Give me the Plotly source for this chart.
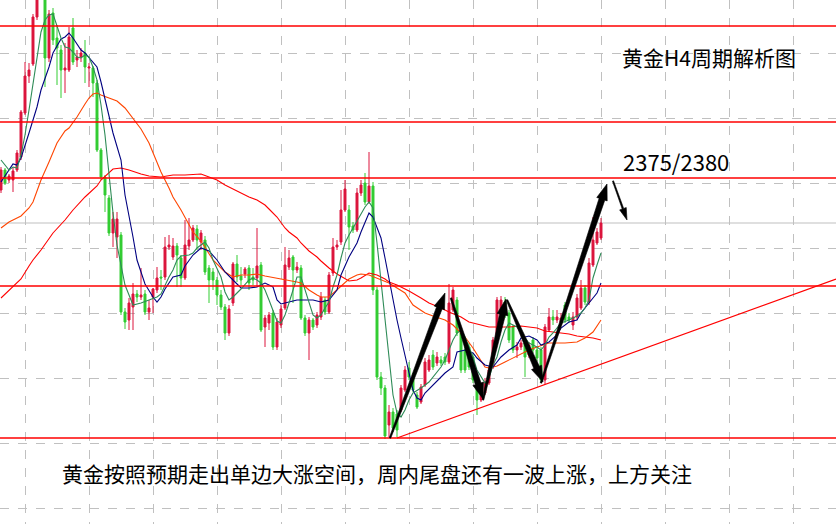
import math
import plotly.graph_objects as go

# ---- candle data (H4 gold) ----
open_ = [2375,2385,2380,2380,2385,2391.5,2413.5,2432,2438,2461.5,2472.5,2475,2441,2463.5,2451,2445,2435,2435,2456,2440,
         2441.5,2443.5,2436,2436,2428.5,2395,2381.5,2371,2353.5,2351.5,2352.5,2314,2310,2316.5,2323,2321.5,2323,2314,2321.5,2325,
         2331.5,2331.5,2346.5,2341.5,2347,2341,2331,2347,2350,2355.5,2349,2350,2336,2334,2330,2322.5,2316.5,2303.5,2318.5,2338,
         2332,2333,2336,2331.5,2331,2337.5,2306.5,2308.5,2313.5,2296.5,2307.5,2316,2336.5,2341.5,2335,2336,2311,2303.5,2310,2307.5,
         2311.5,2320,2314,2333.5,2346.5,2349,2365,2365,2357,2355,2373.5,2378.5,2369,2377,2325,2281.5,2276,2257.5,2264,2263,
         2265,2275,2286,2281.5,2272.5,2269,2277.5,2285,2292.5,2288.5,2290,2291.5,2289,2315,2320,2303.5,2295,2296.5,2291.5,2278.5,
         2270,2273.5,2278.5,2286.5,2301,2315,2319,2313.5,2306.5,2295,2296.5,2298.5,2292.5,2300,2295,2295,2280,2305,2311.5,2310,
         2309,2317.5,2311.5,2307.5,2311.5,2316,2326,2319,2337.5,2348.5,2351]
high = [2386.5,2386,2383,2386.5,2395,2415,2439,2438.5,2463,2480,2487.5,2477.5,2465,2466,2457.5,2447.5,2448.5,2456.5,2461,2445,
        2446,2450,2438.5,2437,2430,2396,2382.5,2372.5,2364,2364,2354,2316,2321,2328.5,2325,2336,2325,2320,2326,2336.5,
        2335,2351.5,2352.5,2351,2348.5,2342.5,2360,2361,2357.5,2357.5,2355,2352,2337.5,2336,2331.5,2325,2318,2317.5,2339,2342.5,
        2336.5,2336.5,2337.5,2336,2356,2339,2312.5,2314,2315,2311,2317.5,2346.5,2345,2342.5,2339,2337.5,2312.5,2311.5,2311,2314,
        2324,2321.5,2334,2351,2350,2375,2380,2367.5,2359,2376,2380,2383.5,2394,2379,2326.5,2284,2277.5,2267.5,2266,2265,
        2277.5,2287,2289,2283.5,2274,2278,2291,2292.5,2295,2294,2292,2293.5,2328,2326.5,2321.5,2305,2297.5,2298.5,2293.5,2280,
        2277,2281,2287,2301.5,2321.5,2322,2321.5,2315,2307.5,2299,2300,2300,2299,2301.5,2296.5,2296.5,2308,2316,2315,2315,
        2313.5,2319,2313.5,2314,2323,2330,2327.5,2341,2361.5,2356,2361]
low = [2373.5,2377.5,2378.5,2374,2384,2390,2412.5,2428.5,2437,2460,2471,2426.5,2439,2447.5,2427.5,2421,2423.5,2434,2437.5,2436.5,
       2439,2428.5,2426.5,2421.5,2394,2380,2364,2352,2346.5,2341,2312.5,2305.5,2305,2305,2319,2320,2312.5,2310,2313.5,2323.5,
       2325,2330,2345,2340,2326.5,2326.5,2330,2345,2349,2345,2345,2332.5,2318.5,2325,2317.5,2315,2300,2302,2317,2329,
       2327.5,2331,2325,2327.5,2326.5,2304,2296.5,2305,2295,2295,2306,2315,2335,2318.5,2333.5,2310,2302,2290,2305,2306,
       2310,2312.5,2313,2332,2345,2347.5,2364,2345,2353.5,2354,2372,2367.5,2368,2322.5,2280,2272.5,2250.5,2251.5,2254,2251.5,
       2264,2274,2280,2274,2265.5,2268,2276.5,2284,2285,2287,2287,2287.5,2288,2314,2302,2283.5,2283.5,2285,2278.5,2262.5,
       2269,2272.5,2277.5,2285.5,2300,2314,2311,2298.5,2293.5,2291,2295,2281.5,2291,2293.5,2289.5,2278.5,2278,2304,2307.5,2308.5,
       2307.5,2308.5,2308.5,2305,2310,2315,2317.5,2317.5,2336.5,2347.5,2350]
close = [2385,2378.5,2382,2384.5,2393.5,2414,2432,2435,2461.5,2472.5,2482.5,2441,2463,2450,2446,2435,2436,2451.5,2439,2441.5,
         2443.5,2436.5,2436.5,2428.5,2395,2381.5,2372.5,2353.5,2360.5,2360.5,2314,2309,2318.5,2323,2321.5,2322.5,2314,2316,2325.5,2331,
         2331,2346.5,2347.5,2347,2342.5,2331,2347.5,2350,2356,2350,2353.5,2334,2330,2330,2322.5,2316.5,2303.5,2315.5,2338,2331.5,
         2330,2335.5,2328.5,2330,2337,2305,2311,2312.5,2296.5,2309,2315.5,2337.5,2341,2335,2336.5,2311,2303.5,2310,2306.5,2312.5,
         2321.5,2314,2332.5,2346.5,2347.5,2365,2375.5,2356.5,2355,2373.5,2377.5,2369,2377,2325,2281.5,2276,2252,2264,2256,2255,
         2276,2285,2281.5,2275,2266.5,2276.5,2289,2290,2286.5,2291.5,2288.5,2289,2318.5,2325,2303.5,2285,2285,2286.5,2280,2270,
         2275,2279,2285,2300,2320,2320,2312.5,2300,2295,2296.5,2298.5,2291.5,2297.5,2295,2291,2280,2306.5,2311.5,2310,2311.5,
         2311,2310,2310,2311.5,2321,2326,2319,2338.5,2350,2354,2358.5]
candle_idx = list(range(len(open_)))

# ---- moving averages (sampled) ----
ma_fast_idx = [0,1,2,3,4,5,6,7,8,9,10,11,12,13,14,15,16,17,18,19,20,21,22,23,24,25,26,27,28,29,30,31,32,33,35,37,39,40,41,42,43,44,45,47,48,49,50,51,52,53,
               55,56,57,58,60,61,62,63,64,65,66,67,68,69,70,71,72,73,74,75,76,77,78,79,80,81,82,83,84,85,86,87,88,89,90,91,92,93,94,95,96,97,98,99,100,101,102,103,
               105,107,108,110,111,112,113,114,115,116,117,118,119,120,121,122,123,124,125,126,127,128,129,130,131,132,134,135,136,137,138,139,140,142,143,144,145,146,147,148,149,150]
ma_fast = [2390,2387.5,2385,2386.5,2386,2392.5,2402.5,2415,2428.5,2441.5,2454,2460,2462.5,2463,2456.5,2451,2446.5,2446,2444,2441.5,2441,2442.5,2441.5,2436.5,2430,2417.5,2402.5,2382.5,2363.5,2347.5,
           2337.5,2327.5,2322.5,2317.5,2318.5,2320,2321.5,2323,2327.5,2331.5,2335,2340,2342,2342.5,2343.5,2346,2347.5,2349,2346,2340,
           2331.5,2324,2320,2321.5,2325.5,2328,2330,2331,2330,2328.5,2325,2320,2315,2309.5,2308.5,2312.5,2318.5,2325,2331.5,2331.5,
           2325,2318.5,2312.5,2311,2312.5,2316,2319,2326.5,2332.5,2341,2348.5,2352.5,2356,2359,2363,2366.5,2369,2366,2348.5,2330,
           2310,2290,2272.5,2263.5,2261.5,2265,2270,2273.5,2276,2279,2281.5,2286.5,2290,2295,2300,2303.5,2305,2301.5,2296.5,2291.5,
           2285,2281.5,2278.5,2281,2287.5,2291.5,2299,2305,2308.5,2307.5,2306.5,2303.5,2301,2298.5,2296.5,2295,2297.5,2301.5,2303.5,2306,
           2308.5,2310,2311,2312,2313.5,2316,2320,2331,2337.5,2343.5]
ma_mid_idx = [0,3,4,5,7,9,10,12,13,15,16,17,18,20,21,22,24,25,28,30,31,33,34,35,36,38,39,40,41,43,45,46,48,50,52,54,56,58,60,62,
              64,66,68,69,70,72,74,76,78,80,82,84,85,87,89,90,92,93,95,96,97,98,99,100,101,102,103,104,105,106,108,111,113,114,116,118,119,121,123,124,
              125,127,129,130,132,134,135,137,139,140,142,144,145,147,149,150]
ma_mid = [2379,2388,2387.5,2391,2403.5,2416.5,2425,2436.5,2443.5,2450.5,2451.5,2453.5,2451,2445,2443.5,2441,2436.5,2429,2403.5,2390,
          2372.5,2351.5,2340,2334,2328,2321.5,2319,2321.5,2325.5,2331.5,2332.5,2337,2342.5,2346,2344.5,2340,2334,2330,2326,2326,
          2326.5,2328.5,2326.5,2320,2318,2319,2320,2320,2320,2319,2320,2325,2332.5,2341.5,2348.5,2354,2363.5,2361.5,2351,2341,
          2330,2320,2310,2301,2292.5,2284,2275,2271,2270,2273.5,2277.5,2283.5,2286.5,2294,2295,2293.5,2291,2287.5,2286.5,2289,
          2291.5,2295,2297.5,2301,2302,2300,2297.5,2299,2302.5,2306,2309,2310,2313.5,2318.5,2323.5,2328.5]
ma_slow_idx = [0,2,3,5,7,8,10,11,12,14,16,17,19,21,22,23,24,25,27,29,31,33,35,37,38,40,42,43,45,47,48,50,52,53,55,56,58,60,62,64,
               66,69,71,74,75,77,79,80,82,84,86,87,89,90,92,94,95,97,99,101,103,106,108,111,113,116,118,120,121,122,124,126,129,132,134,137,141,144,146,148,150]
ma_slow = [2356,2359,2360,2362,2366,2369,2380,2385,2389,2398.5,2404.5,2406,2411.5,2418,2421,2423,2423.5,2422.5,2421,2419.5,
           2416,2411,2405.5,2398.5,2393.5,2384,2376,2371.5,2365,2358,2354,2349.5,2343.5,2340,2336,2334,2331.5,2332.5,2332.5,2333,
           2332,2331,2330,2329,2328.5,2325,2322.5,2321.5,2321.5,2325,2328.5,2330.5,2332.5,2333,2332.5,2331,2330,2328.5,2326,2323.5,
           2317.5,2313.5,2312,2310,2307.5,2301.5,2296,2290,2286.5,2286,2287,2289,2292,2295,2296.5,2298.5,2298.5,2299,2301,2304,2310]
ma_long_idx = [0,2,3,5,7,8,10,13,16,18,21,22,24,25,27,28,30,32,35,37,40,43,46,50,52,54,56,58,60,62,
               64,66,67,69,71,72,74,75,77,79,80,82,84,86,87,89,90,92,94,96,97,99,102,105,107,110,112,115,117,120,
               122,125,127,130,132,134,136,138,140,142,144,146,148,150]
ma_long = [2321,2325,2326.5,2330.5,2337,2340,2345,2353.5,2360,2365,2371.5,2373.5,2377,2380,2384,2385.5,2386,2385,2383,2382,
           2381.5,2382.5,2382.5,2383,2381.5,2380,2377.5,2375.5,2373.5,2371.5,2370,2367.5,2365.5,2361.5,2356,2354,2351,2348.5,2344.5,2341.5,
           2339.5,2336,2333,2330.5,2329.5,2330,2331,2333.5,2332.5,2330.5,2329,2327.5,2324.5,2321,2318.5,2316,2314,2311.5,2309,2307.5,
           2306.5,2306.5,2306.5,2307,2306.5,2306,2304.5,2304,2303.5,2303,2302,2301.5,2301,2300]

# ---- levels, trend line, arrows ----
red_levels = [2457, 2409, 2381, 2327, 2251]
bid_level = 2358.5
trend_x = [99, 208.75]
trend_y = [2251, 2330.5]
arrow_tail_x = [97.25, 112.5, 120.5, 126.5, 135, 153]
arrow_tail_y = [2251, 2321, 2270, 2320, 2278.5, 2379.5]
arrow_tip_x = [111, 120.5, 126.25, 135.5, 151.5, 156.5]
arrow_tip_y = [2323.5, 2270.5, 2320.5, 2279, 2378, 2360]
arrow_style = ["bold", "bold", "bold", "bold", "bold", "thin"]

title_text = "黄金H4周期解析图"
target_text = "2375/2380"
note_text = "黄金按照预期走出单边大涨空间，周内尾盘还有一波上涨，上方关注"

FONT = "Noto Sans CJK SC"
W, H = 836, 524
X_RANGE = [-0.25, 208.75]
Y_RANGE = [2208, 2470]
KX = W / (X_RANGE[1] - X_RANGE[0])   # px per candle
KY = H / (Y_RANGE[1] - Y_RANGE[0])   # px per price unit

fig = go.Figure()
fig.add_trace(go.Candlestick(
    x=candle_idx, open=open_, high=high, low=low, close=close,
    increasing=dict(line=dict(color="#DC143C", width=1), fillcolor="#DC143C"),
    decreasing=dict(line=dict(color="#32CD32", width=1), fillcolor="#32CD32"),
    whiskerwidth=0, showlegend=False, hoverinfo="skip"))

for xs, ys, col in [(ma_long_idx, ma_long, "#FF0000"), (ma_slow_idx, ma_slow, "#FF4500"),
                    (ma_mid_idx, ma_mid, "#000080"), (ma_fast_idx, ma_fast, "#2E8B57")]:
    fig.add_trace(go.Scatter(x=xs, y=ys, mode="lines", line=dict(color=col, width=1.1),
                             showlegend=False, hoverinfo="skip"))

shapes = []
shapes.append(dict(type="line", xref="paper", yref="y", x0=0, x1=1, y0=bid_level, y1=bid_level,
                   line=dict(color="#C0C0C0", width=1.2), layer="below"))
for lv in red_levels:
    shapes.append(dict(type="line", xref="paper", yref="y", x0=0, x1=1, y0=lv, y1=lv,
                       line=dict(color="#FF0000", width=1.5), layer="above"))
shapes.append(dict(type="line", xref="x", yref="y", x0=trend_x[0], x1=trend_x[1], y0=trend_y[0], y1=trend_y[1],
                   line=dict(color="#FF0000", width=1.2), layer="above"))


def tapered_arrow(tx, ty, hx, hy, style):
    # geometry worked out in screen pixels, then mapped back to data units
    if style == "bold":
        w0, w1, head_len, head_w = 1.5, 6.0, 16.0, 11.0
    else:
        w0, w1, head_len, head_w = 1.2, 1.6, 12.0, 7.0
    TX, TY, HX, HY = tx * KX, ty * KY, hx * KX, hy * KY
    dx, dy = HX - TX, HY - TY
    ln = math.hypot(dx, dy)
    ux, uy = dx / ln, dy / ln
    nx, ny = -uy, ux
    BX, BY = HX - ux * head_len, HY - uy * head_len
    pts = [(TX + nx * w0 / 2, TY + ny * w0 / 2), (BX + nx * w1 / 2, BY + ny * w1 / 2),
           (BX + nx * head_w / 2, BY + ny * head_w / 2), (HX, HY),
           (BX - nx * head_w / 2, BY - ny * head_w / 2), (BX - nx * w1 / 2, BY - ny * w1 / 2),
           (TX - nx * w0 / 2, TY - ny * w0 / 2)]
    path = "M " + " L ".join(f"{px / KX:.4f},{py / KY:.4f}" for px, py in pts) + " Z"
    return dict(type="path", xref="x", yref="y", path=path, fillcolor="#000000",
                line=dict(color="#000000", width=0.6), layer="above")


for tx, ty, hx, hy, st in zip(arrow_tail_x, arrow_tail_y, arrow_tip_x, arrow_tip_y, arrow_style):
    shapes.append(tapered_arrow(tx, ty, hx, hy, st))

annotations = [
    dict(x=620 / W, y=1 - 57 / H, xref="paper", yref="paper", text=title_text, showarrow=False,
         xanchor="left", yanchor="middle", font=dict(family=FONT, size=21, color="#000000")),
    dict(x=621 / W, y=1 - 161 / H, xref="paper", yref="paper", text=target_text, showarrow=False,
         xanchor="left", yanchor="middle", font=dict(family=FONT, size=22, color="#000000")),
    dict(x=60 / W, y=1 - 473 / H, xref="paper", yref="paper", text=note_text, showarrow=False,
         xanchor="left", yanchor="middle", font=dict(family=FONT, size=21, color="#000000")),
]

fig.update_layout(
    width=W, height=H, margin=dict(l=0, r=0, t=0, b=0),
    paper_bgcolor="#FFFFFF", plot_bgcolor="#FFFFFF",
    shapes=shapes, annotations=annotations, hovermode=False,
    xaxis=dict(range=X_RANGE, rangeslider=dict(visible=False), showticklabels=False, ticks="",
               showgrid=True, gridcolor="#C0C0C0", gridwidth=1, griddash="dash", tick0=6.15, dtick=16,
               tickmode="linear", zeroline=False, showline=False),
    yaxis=dict(range=Y_RANGE, showticklabels=False, ticks="", showgrid=True, gridcolor="#C0C0C0",
               gridwidth=1, griddash="dash", tick0=2216, dtick=32.5, tickmode="linear", zeroline=False, showline=False),
)

fig.write_html("out.html", config={"displayModeBar": False},
               post_script="document.body.style.margin='0';document.body.style.padding='0';")
